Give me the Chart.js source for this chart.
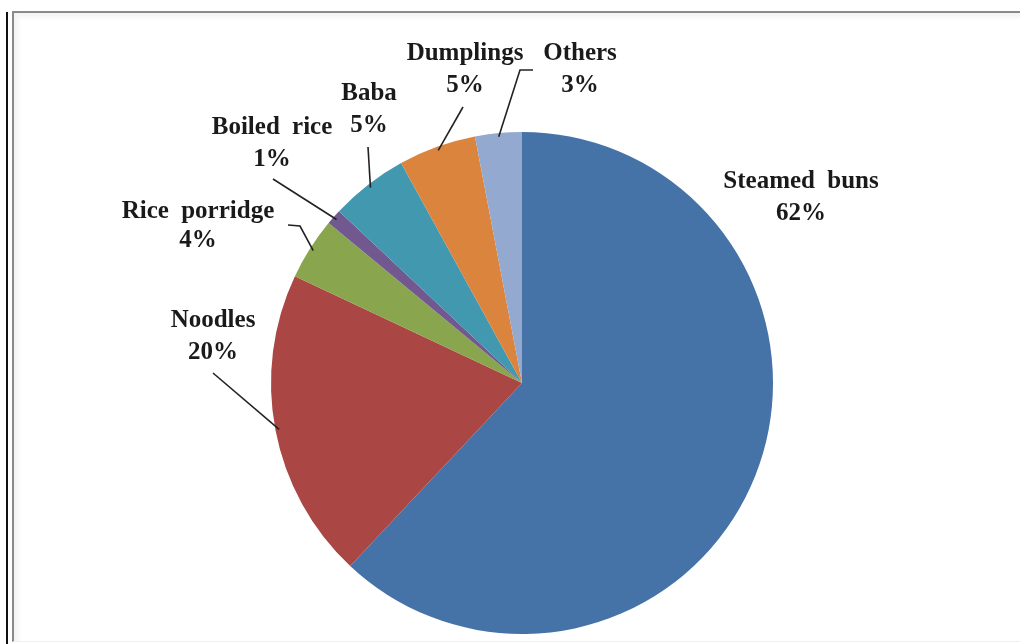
<!DOCTYPE html>
<html>
<head>
<meta charset="utf-8">
<script src="https://cdn.jsdelivr.net/npm/chart.js@4.4.1/dist/chart.umd.min.js"></script>
<style>
    html, body { margin: 0; padding: 0; background: #fff; overflow: hidden; }
    .stage { position: relative; width: 1020px; height: 644px; }
    .rule { position: absolute; left: 6px; top: 12px; width: 2px; height: 640px; background: #111; }
    .frame {
        position: absolute; left: 12px; top: 11px; width: 1100px; height: 628px;
        border-top: 2px solid #8a8a8a; border-left: 2px solid #8a8a8a;
        border-bottom: 1px solid #f0f0f0;
        box-shadow: inset 4px 4px 5px rgba(0, 0, 0, 0.05);
    }
    #foodChart { position: absolute; left: 0; top: 0; }
</style>
</head>
<body>
<div class="stage">
    <div class="rule"></div>
    <div class="frame"></div>
    <canvas id="foodChart" width="1020" height="644"></canvas>
</div>
<script>
const categories = ['Steamed buns', 'Noodles', 'Rice porridge', 'Boiled rice', 'Baba', 'Dumplings', 'Others'];
const shares = [62, 20, 4, 1, 5, 5, 3];
const sliceColors = ['#4572A7', '#AA4643', '#89A54E', '#71588F', '#4198AF', '#DB843D', '#93A9CF'];

// label placement relative to the pie centre: text centre x, first line y,
// and optional leader start / elbow points
const labelLayout = [
    { dx: 279, dy: -201, gap: 32 },
    { dx: -309, dy: -62, gap: 32, lead: [[-309, -10]] },
    { dx: -324, dy: -171, gap: 29, lead: [[-234, -158], [-222, -157]] },
    { dx: -250, dy: -255, gap: 32, lead: [[-249, -204]] },
    { dx: -153, dy: -289, gap: 32, lead: [[-154, -236]] },
    { dx: -57, dy: -329, gap: 32, lead: [[-59, -276]] },
    { dx: 58, dy: -329, gap: 32, lead: [[11, -313], [-2, -313]] }
];

const sliceLabels = {
    id: 'sliceLabels',
    afterDatasetsDraw(chart) {
        const ctx = chart.ctx;
        const arcs = chart.getDatasetMeta(0).data;
        ctx.save();
        arcs.forEach((arc, i) => {
            const layout = labelLayout[i];
            const cx = arc.x, cy = arc.y;
            if (layout.lead) {
                const mid = (arc.startAngle + arc.endAngle) / 2;
                const r = arc.outerRadius * 0.985;
                ctx.beginPath();
                ctx.strokeStyle = '#222';
                ctx.lineWidth = 1.6;
                layout.lead.forEach((p, k) => {
                    if (k === 0) ctx.moveTo(cx + p[0], cy + p[1]);
                    else ctx.lineTo(cx + p[0], cy + p[1]);
                });
                ctx.lineTo(cx + Math.cos(mid) * r, cy + Math.sin(mid) * r);
                ctx.stroke();
            }
            ctx.fillStyle = '#1a1a1a';
            ctx.font = 'bold 25px "Liberation Serif", "Times New Roman", serif';
            ctx.textAlign = 'center';
            ctx.textBaseline = 'middle';
            ctx.wordSpacing = '6px';
            ctx.fillText(categories[i], cx + layout.dx, cy + layout.dy);
            ctx.fillText(shares[i] + '%', cx + layout.dx, cy + layout.dy + layout.gap);
        });
        ctx.restore();
    }
};

new Chart(document.getElementById('foodChart'), {
    type: 'pie',
    data: {
        labels: categories,
        datasets: [{
            data: shares,
            backgroundColor: sliceColors,
            borderWidth: 0
        }]
    },
    options: {
        responsive: false,
        animation: false,
        layout: { padding: { left: 271, right: 247, top: 132, bottom: 10 } },
        plugins: {
            legend: { display: false },
            tooltip: { enabled: false }
        }
    },
    plugins: [sliceLabels]
});
</script>
</body>
</html>
